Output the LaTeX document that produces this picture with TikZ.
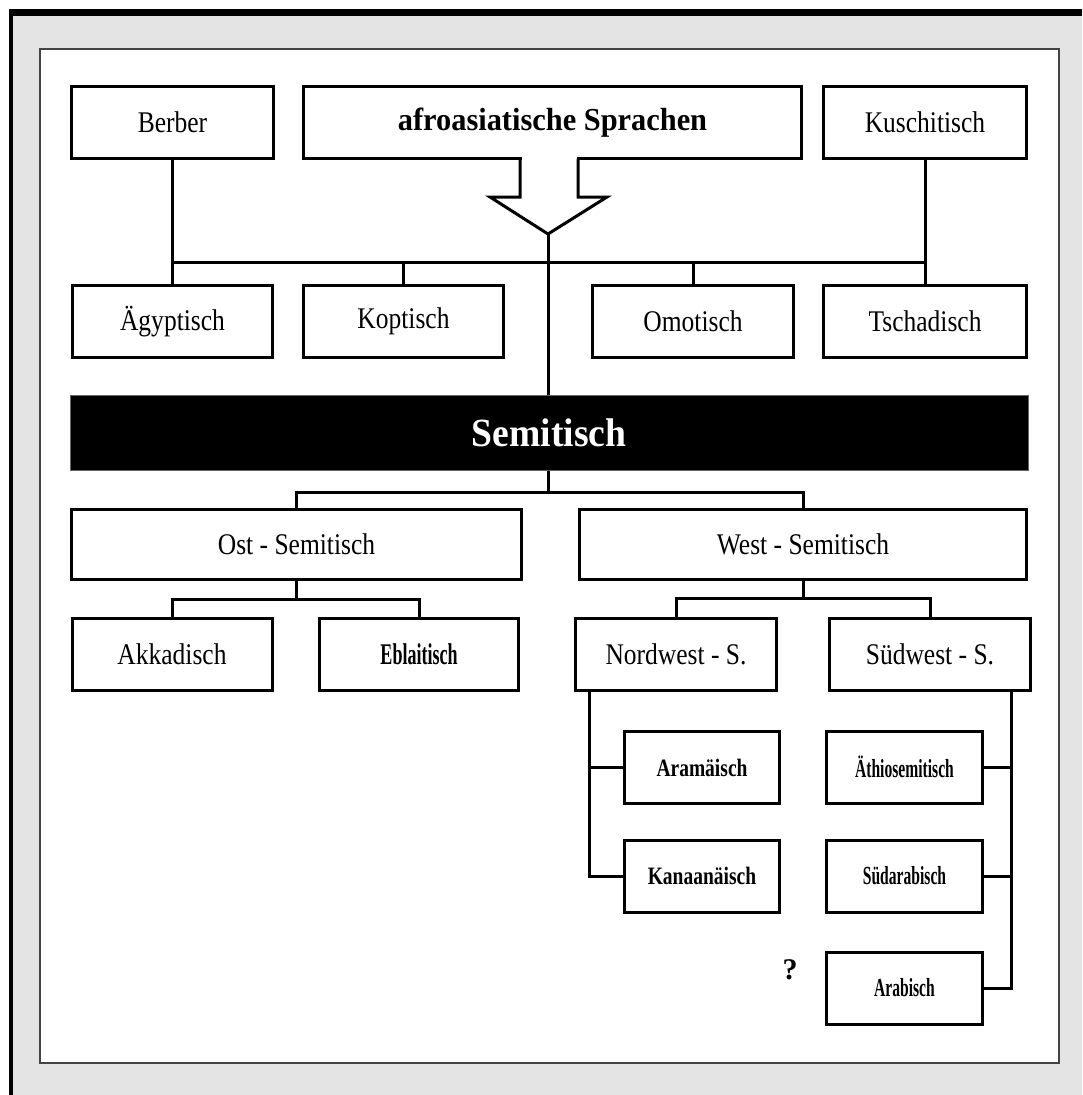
\documentclass[tikz,border=0pt]{standalone}
\usepackage{fontspec}
\setmainfont{Liberation Serif}
\newfontfamily\regf[FakeStretch=0.85]{Liberation Serif}
\newfontfamily\midf[FakeStretch=0.78]{Liberation Serif}
\newfontfamily\narf[FakeStretch=0.6]{Liberation Serif}
\newfontfamily\semf[FakeStretch=0.94]{Liberation Serif}
\newfontfamily\afrof[FakeStretch=0.95]{Liberation Serif}
\definecolor{bggray}{HTML}{E4E4E4}
\definecolor{framegray}{HTML}{444444}
\begin{document}
\begin{tikzpicture}[x=1pt,y=-1pt,
  box/.style={draw=black, line width=3pt, fill=white, inner sep=0pt,
    minimum height=72pt, font=\regf\fontsize{30}{32}\selectfont},
  midlbl/.style={font=\midf\bfseries\fontsize{25}{27}\selectfont},
  narlbl/.style={font=\narf\bfseries\fontsize{26}{28}\selectfont},
  conn/.style={draw=black, line width=3pt, line join=miter}]
\useasboundingbox (0,0) rectangle (1082,1095);
% background and frames
\fill[white] (0,0) rectangle (1082,1095);
\fill[bggray] (9,9) rectangle (1082,1095);
\fill[black] (9,9) rectangle (1082,16);
\fill[black] (9,9) rectangle (13,1095);
\draw[framegray, line width=2pt, fill=white] (40,49) rectangle (1059,1063);
% top row
\node[box, minimum width=202pt] (berber) at (172.5,122.5) {Berber};
\node[box, minimum width=498pt, font=\afrof\bfseries\fontsize{32}{34}\selectfont] (afro) at (552.5,122.5) {afroasiatische Sprachen};
\node[box, minimum width=203pt] (kusch) at (925,122.5) {Kuschitisch};
% arrow out of the afro box
\coordinate (tip) at (548,234);
\fill[white] (521.5,156) rectangle (576.5,163);
\draw[conn] (520,158.5) -- (520,197) -- (490,197) -- (tip) -- (607,197) -- (578,197) -- (578,158.5);
% second row
\node[box, minimum width=200pt] (aeg) at (172.5,321.5) {Ägyptisch};
\node[box, minimum width=200pt] (kopt) at (403.5,321.5) {Koptisch};
\node[box, minimum width=201pt] (omot) at (693,321.5) {Omotisch};
\node[box, minimum width=203pt] (tschad) at (925,321.5) {Tschadisch};
% Semitisch bar
\node[fill=black, draw=black!60, line width=1pt, minimum width=958pt, minimum height=75pt, inner sep=0pt,
  text=white, font=\semf\bfseries\fontsize{40}{42}\selectfont] (sem) at (549,432.5) {Semitisch};
% branches
\node[box, minimum width=450pt, minimum height=70pt] (ost) at (296.5,544) {Ost - Semitisch};
\node[box, minimum width=447pt, minimum height=70pt] (west) at (803,544) {West - Semitisch};
\node[box, minimum width=200pt] (akk) at (172,654.5) {Akkadisch};
\node[box, minimum width=199pt, font=\narf\bfseries\fontsize{30}{32}\selectfont] (ebla) at (419,654.5) {Eblaitisch};
\node[box, minimum width=201pt] (nw) at (676,654.5) {Nordwest - S.};
\node[box, minimum width=201pt] (sw) at (930,654.5) {Südwest - S.};
\node[box, minimum width=155pt, midlbl] (aram) at (702,767.5) {Aramäisch};
\node[box, minimum width=155pt, midlbl] (kan) at (702,876) {Kanaanäisch};
\node[box, minimum width=156pt, narlbl] (aeth) at (904.5,767) {Äthiosemitisch};
\node[box, minimum width=156pt, narlbl] (sudar) at (904.5,876) {Südarabisch};
\node[box, minimum width=156pt, narlbl] (arab) at (904.5,988) {Arabisch};
\node[font=\bfseries\fontsize{30}{32}\selectfont] (quest) at (790,970) {?};
% connectors
\coordinate (h1) at (548,262);
\coordinate (h2) at (548,492);
\coordinate (h3) at (296.5,599);
\coordinate (h4) at (803,598);
\coordinate (v1) at (589,700);
\coordinate (v2) at (1011,700);
\draw[conn] (berber.south) -- (berber.south |- h1) -- (kusch.south |- h1) -- (kusch.south);
\draw[conn] (berber.south |- h1) -- (aeg.north);
\draw[conn] (kopt.north |- h1) -- (kopt.north);
\draw[conn] (omot.north |- h1) -- (omot.north);
\draw[conn] (tschad.north |- h1) -- (tschad.north);
\draw[conn] (tip) -- (tip |- sem.north);
\draw[conn] (sem.south -| h2) -- (h2);
\draw[conn] (ost.north) -- (ost.north |- h2) -- (west.north |- h2) -- (west.north);
\draw[conn] (ost.south) -- (h3);
\draw[conn] (akk.north) -- (akk.north |- h3) -- (ebla.north |- h3) -- (ebla.north);
\draw[conn] (west.south) -- (h4);
\draw[conn] (nw.north) -- (nw.north |- h4) -- (sw.north |- h4) -- (sw.north);
\draw[conn] (nw.south -| v1) -- (v1 |- kan.west) -- (kan.west);
\draw[conn] (v1 |- aram.west) -- (aram.west);
\draw[conn] (sw.south -| v2) -- (v2 |- arab.east) -- (arab.east);
\draw[conn] (v2 |- aeth.east) -- (aeth.east);
\draw[conn] (v2 |- sudar.east) -- (sudar.east);
\end{tikzpicture}
\end{document}
